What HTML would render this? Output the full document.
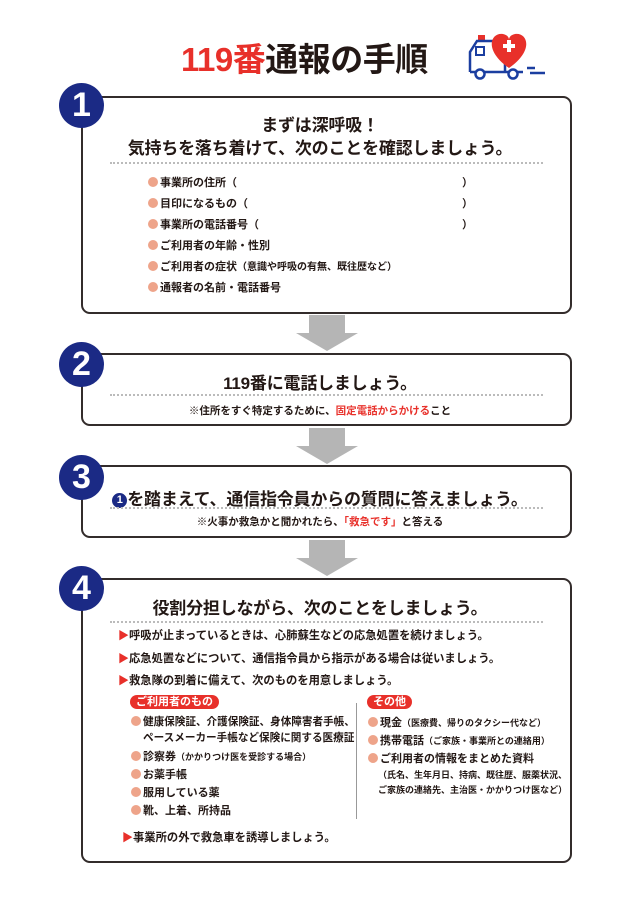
<!DOCTYPE html>
<html><head><meta charset="utf-8"><style>
*{margin:0;padding:0;box-sizing:border-box}
body{width:640px;height:905px;background:#fff;position:relative;overflow:hidden;font-family:"Liberation Sans","Noto Sans CJK JP",sans-serif;color:#231815}
.a{position:absolute;white-space:nowrap}
.box{position:absolute;left:81px;width:491px;border:2px solid #332c2b;border-radius:9px;background:#fff}
.num{position:absolute;width:45px;height:45px;border-radius:50%;background:#1b2a85;color:#fff;font-weight:bold;font-size:34px;line-height:45px;text-align:center;left:59px}
.dot{position:absolute;left:110px;width:433px;border-top:2px dotted #bbb}
.h{position:absolute;left:0;width:640px;text-align:center;font-weight:bold;font-size:17px;white-space:nowrap;letter-spacing:-0.2px}
.li{position:absolute;font-size:11px;font-weight:bold;white-space:nowrap;line-height:14px}
.li b{display:inline-block;width:10px;height:10px;border-radius:50%;background:#eea48a;margin-right:2px;vertical-align:-1px}
.tri{color:#e8302a;font-size:11px}
.r{color:#e8302a}
.arrow{position:absolute;left:296px;width:62px}
.arrow i{display:block;margin:0 auto;width:36px;height:18px;background:#b5b5b5}
.arrow s{display:block;width:0;height:0;border-left:31px solid transparent;border-right:31px solid transparent;border-top:18px solid #b5b5b5}
.tag{position:absolute;background:#e8302a;color:#fff;font-weight:bold;font-size:11px;border-radius:8px;padding:0 6px;line-height:14px;white-space:nowrap}
</style></head><body>
<div class="a" style="left:181px;top:40px;font-size:33px;font-weight:bold;line-height:40px;letter-spacing:-0.5px"><span class="r">119番</span>通報の手順</div>
<svg class="a" style="left:465px;top:32px" width="85" height="48" viewBox="0 0 85 48">
<rect x="13" y="3" width="7" height="5" fill="#e8302a"/>
<path d="M5 40 V20 L12 9 H40 V40" fill="none" stroke="#1b3ea0" stroke-width="2.5"/>
<path d="M5 40 H58" stroke="#1b3ea0" stroke-width="2.5"/>
<rect x="11" y="15" width="8" height="8" fill="none" stroke="#1b3ea0" stroke-width="2"/>
<circle cx="15" cy="42" r="4.5" fill="#fff" stroke="#1b3ea0" stroke-width="2.5"/>
<circle cx="48" cy="42" r="4.5" fill="#fff" stroke="#1b3ea0" stroke-width="2.5"/>
<path d="M44 36 C18 18 26 0 38 2 C43 3 44 6 44 8 C44 6 45 3 50 2 C62 0 70 18 44 36Z" fill="#e8302a"/>
<rect x="38" y="12" width="12" height="4" fill="#fff"/><rect x="42" y="8" width="4" height="12" fill="#fff"/>
<path d="M62 36 H70 M65 41 H80" stroke="#1b3ea0" stroke-width="2.5"/>
</svg>

<div class="box" style="top:96px;height:218px"></div>
<div class="num" style="top:83px">1</div>
<div class="h" style="top:111px">まずは深呼吸！</div>
<div class="h" style="top:134px">気持ちを落ち着けて、次のことを確認しましょう。</div>
<div class="dot" style="top:162px"></div>
<div class="li" style="left:148px;top:176px"><b></b>事業所の住所（</div><div class="li" style="left:462px;top:176px">）</div>
<div class="li" style="left:148px;top:197px"><b></b>目印になるもの（</div><div class="li" style="left:462px;top:197px">）</div>
<div class="li" style="left:148px;top:218px"><b></b>事業所の電話番号（</div><div class="li" style="left:462px;top:218px">）</div>
<div class="li" style="left:148px;top:239px"><b></b>ご利用者の年齢・性別</div>
<div class="li" style="left:148px;top:260px"><b></b>ご利用者の症状<span style="font-size:10px">（意識や呼吸の有無、既往歴など）</span></div>
<div class="li" style="left:148px;top:281px"><b></b>通報者の名前・電話番号</div>

<div class="arrow" style="top:315px"><i></i><s></s></div>
<div class="box" style="top:353px;height:73px"></div>
<div class="num" style="top:342px">2</div>
<div class="h" style="top:369px">119番に電話しましょう。</div>
<div class="dot" style="top:394px"></div>
<div class="h" style="top:403px;font-size:10.5px;letter-spacing:0">※住所をすぐ特定するために、<span class="r">固定電話からかける</span>こと</div>

<div class="arrow" style="top:428px"><i></i><s></s></div>
<div class="box" style="top:465px;height:73px"></div>
<div class="num" style="top:455px">3</div>
<div class="h" style="top:485px"><span style="display:inline-block;width:15px;height:15px;border-radius:50%;background:#1b2a85;color:#fff;font-size:11px;line-height:15px;vertical-align:2px;letter-spacing:0">1</span>を踏まえて、通信指令員からの質問に答えましょう。</div>
<div class="dot" style="top:507px"></div>
<div class="h" style="top:514px;font-size:10.5px;letter-spacing:0">※火事か救急かと聞かれたら、<span class="r">「救急です」</span>と答える</div>

<div class="arrow" style="top:540px"><i></i><s></s></div>
<div class="box" style="top:578px;height:285px"></div>
<div class="num" style="top:566px">4</div>
<div class="h" style="top:594px">役割分担しながら、次のことをしましょう。</div>
<div class="dot" style="top:621px"></div>
<div class="li" style="left:118px;top:629px;font-size:11.3px"><span class="tri">▶</span>呼吸が止まっているときは、心肺蘇生などの応急処置を続けましょう。</div>
<div class="li" style="left:118px;top:652px;font-size:11.3px"><span class="tri">▶</span>応急処置などについて、通信指令員から指示がある場合は従いましょう。</div>
<div class="li" style="left:118px;top:674px;font-size:11.3px"><span class="tri">▶</span>救急隊の到着に備えて、次のものを用意しましょう。</div>
<div class="tag" style="left:130px;top:695px">ご利用者のもの</div>
<div class="tag" style="left:367px;top:695px">その他</div>
<div class="a" style="left:356px;top:703px;width:1px;height:116px;background:#999"></div>
<div class="li" style="left:131px;top:715px;font-size:10.6px"><b></b>健康保険証、介護保険証、身体障害者手帳、</div>
<div class="li" style="left:143px;top:731px;font-size:10.6px">ペースメーカー手帳など保険に関する医療証</div>
<div class="li" style="left:131px;top:750px"><b></b>診察券<span style="font-size:9px">（かかりつけ医を受診する場合）</span></div>
<div class="li" style="left:131px;top:768px"><b></b>お薬手帳</div>
<div class="li" style="left:131px;top:786px"><b></b>服用している薬</div>
<div class="li" style="left:131px;top:804px"><b></b>靴、上着、所持品</div>
<div class="li" style="left:368px;top:716px"><b></b>現金<span style="font-size:9px">（医療費、帰りのタクシー代など）</span></div>
<div class="li" style="left:368px;top:734px"><b></b>携帯電話<span style="font-size:9px">（ご家族・事業所との連絡用）</span></div>
<div class="li" style="left:368px;top:752px"><b></b>ご利用者の情報をまとめた資料</div>
<div class="li" style="left:378px;top:768px;font-size:9px">（氏名、生年月日、持病、既往歴、服薬状況、</div>
<div class="li" style="left:378px;top:783px;font-size:9px">ご家族の連絡先、主治医・かかりつけ医など）</div>
<div class="li" style="left:122px;top:831px;font-size:11.3px"><span class="tri">▶</span>事業所の外で救急車を誘導しましょう。</div>
</body></html>
